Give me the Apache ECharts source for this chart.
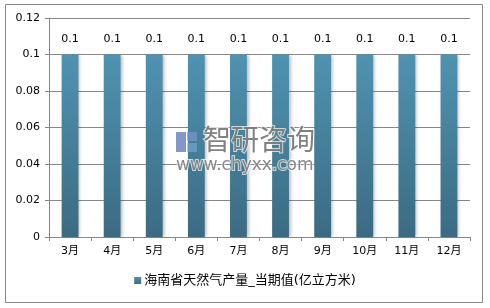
<!DOCTYPE html>
<html><head><meta charset="utf-8">
<script src="https://cdn.jsdelivr.net/npm/echarts@6/dist/echarts.min.js"></script>
<style>html,body{margin:0;padding:0;background:#fff}#c{width:490px;height:308px}</style>
</head><body><div id="c"></div>
<script>
const categories = ['3月','4月','5月','6月','7月','8月','9月','10月','11月','12月'];
const values = [0.1,0.1,0.1,0.1,0.1,0.1,0.1,0.1,0.1,0.1];
const seriesName = '海南省天然气产量_当期值(亿立方米)';
const yTicks = {min:0, max:0.12, interval:0.02};

const chart = echarts.init(document.getElementById('c'));
const font = '"DejaVu Sans","Noto Sans CJK SC",sans-serif';
chart.setOption({
  animation:false,
  backgroundColor:'#fff',
  graphic:[
    {type:'rect', shape:{x:5.5,y:4.5,width:477,height:298}, style:{fill:'none',stroke:'#888',lineWidth:1}, z:-1},
    {type:'rect', shape:{x:176,y:132,width:10,height:20}, style:{fill:'rgba(100,125,190,0.8)'}, z:10},
    {type:'rect', shape:{x:187,y:132,width:10,height:9}, style:{fill:'rgba(120,150,210,0.7)'}, z:10},
    {type:'rect', shape:{x:187,y:143,width:10,height:9}, style:{fill:'rgba(120,170,220,0.6)'}, z:10},
    {type:'text', left:202, top:124, style:{text:'智研咨询', fill:'rgba(115,115,115,0.9)', font:'28px "Noto Sans CJK SC"', stroke:'rgba(255,255,255,0.7)', lineWidth:2}, z:10},
    {type:'text', left:175, top:156, style:{text:'www.chyxx.com', fill:'rgba(115,115,115,0.85)', font:'17px "DejaVu Sans"', stroke:'rgba(255,255,255,0.7)', lineWidth:2}, z:10}
  ],
  grid:{left:49, right:20, top:18, bottom:71, containLabel:false},
  legend:{bottom:16, left:'center', itemWidth:7, itemHeight:7, itemGap:4,
    icon:'rect',
    textStyle:{fontFamily:font, fontSize:13, color:'#000', padding:[0,0,0,-2]},
    data:[seriesName]},
  xAxis:{type:'category', data:categories,
    axisLine:{lineStyle:{color:'#888'}},
    axisTick:{show:true, length:4, lineStyle:{color:'#888'}},
    axisLabel:{fontFamily:font, fontSize:11, color:'#000', margin:9}},
  yAxis:{type:'value', min:yTicks.min, max:yTicks.max, interval:yTicks.interval,
    axisLine:{show:true, lineStyle:{color:'#888'}},
    axisTick:{show:true, length:4, inside:false, lineStyle:{color:'#888'}},
    splitLine:{lineStyle:{color:'#888'}},
    axisLabel:{fontFamily:font, fontSize:11, color:'#000', margin:9,
      formatter:v=>String(+v.toFixed(2))}},
  series:[{name:seriesName, type:'bar', data:values, barWidth:'40%',
    itemStyle:{color:new echarts.graphic.LinearGradient(0,0,0,1,[
      {offset:0,color:'#4f93b0'},{offset:1,color:'#3b6b82'}]),
      shadowColor:'rgba(0,0,0,0.25)', shadowBlur:3, shadowOffsetX:2, shadowOffsetY:0},
    label:{show:true, position:'top', distance:10, fontFamily:font, fontSize:11, color:'#000',
      formatter:p=>String(p.value)}
  }]
});
</script></body></html>
